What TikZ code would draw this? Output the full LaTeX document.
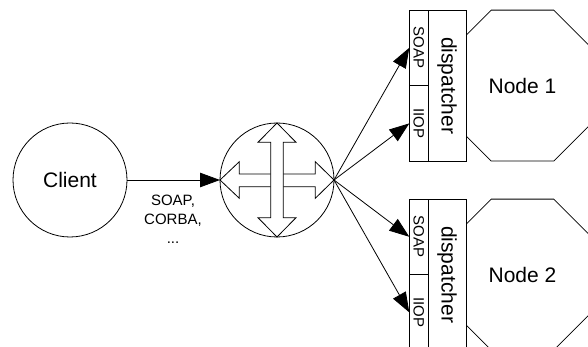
\documentclass[tikz,border=0pt]{standalone}
\usepackage{fontspec}
\setmainfont{Liberation Sans}
\usetikzlibrary{arrows.meta,shapes.geometric}

\tikzset{
	roundbox/.style={draw,circle,minimum size=114pt,inner sep=0pt,outer sep=0pt},
	octabox/.style={draw,fill=white,regular polygon,regular polygon sides=8,minimum size=163.4pt,inner sep=0pt,outer sep=0pt,font=\fontsize{21}{25}\selectfont},
	layerbox/.style={draw,fill=white,rotate=-90,inner sep=0pt,outer sep=0pt},
	protobox/.style={layerbox,minimum width=75.6pt,minimum height=19pt,font=\fontsize{15}{18}\selectfont},
	dispbox/.style={layerbox,minimum width=151.2pt,minimum height=37.7pt,font=\fontsize{21}{25}\selectfont},
	callarrow/.style={-{Triangle[length=20pt,width=14.5pt]},line width=0.8pt},
}

\begin{document}
\begin{tikzpicture}[x=1pt,y=-1pt,line width=0.8pt]

\newcommand*{\serverstack}[3]{
	\node [octabox] (node#1) at (522.5,#2+75.6) {#3};
	\node [dispbox] (disp#1) at (447.15,#2+75.6) {dispatcher};
	\node [protobox] (soap#1) at (418.8,#2+37.8) {SOAP};
	\node [protobox] (iiop#1) at (418.8,#2+113.4) {IIOP};
}

\useasboundingbox (0,0) rectangle (588,347);
\clip (0,0) rectangle (588,347);

\node [roundbox] (client) at (70,180) {\fontsize{21}{25}\selectfont Client};
\node [roundbox] (router) at (277,180) {};

% the cross inside the router
\draw (277,123) -- (296,142.3) -- (283.3,142.3) -- (283.3,217.7) -- (296,217.7) -- (277,237)
	-- (258,217.7) -- (270.7,217.7) -- (270.7,142.3) -- (258,142.3) -- cycle;
\draw (270.7,174) -- (239.3,174) -- (239.3,161.7) -- (220,180) -- (239.3,198.3) -- (239.3,186.7) -- (270.7,186.7);
\draw (283.3,174) -- (315.3,174) -- (315.3,161.7) -- (334,180) -- (315.3,198.3) -- (315.3,186.7) -- (283.3,186.7);

\serverstack{A}{10}{Node 1}
\serverstack{B}{199}{Node 2}

\draw [callarrow] (client) -- (router);
\foreach \target in {soapA,iiopA,soapB,iiopB}{
	\draw [callarrow] (router.east) -- (\target.south);
}

\node [align=center,font=\fontsize{15}{19}\selectfont] (protos) at (173,219.5) {SOAP,\\CORBA,\\...};

\end{tikzpicture}
\end{document}
